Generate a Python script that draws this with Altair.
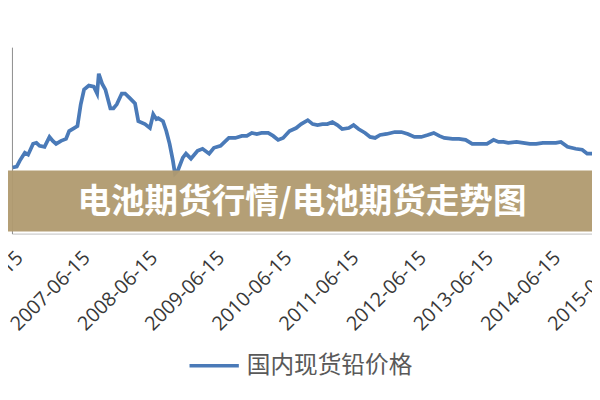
import altair as alt
import pandas as pd

# ---- data ----
dates = [
    "2006-06-16", "2006-07-08", "2006-07-25", "2006-08-21", "2006-09-08", "2006-10-05",
    "2006-10-23", "2006-11-09", "2006-12-06", "2007-01-02", "2007-01-20", "2007-02-07",
    "2007-03-06", "2007-04-02", "2007-04-19", "2007-05-16", "2007-06-03", "2007-06-21",
    "2007-07-09", "2007-08-04", "2007-08-31", "2007-09-18", "2007-09-27", "2007-10-15",
    "2007-11-02", "2007-11-29", "2007-12-16", "2008-01-03", "2008-01-30", "2008-02-17",
    "2008-03-15", "2008-04-11", "2008-04-29", "2008-06-04", "2008-07-01", "2008-07-19",
    "2008-08-05", "2008-08-15", "2008-09-10", "2008-09-28", "2008-10-16", "2008-11-03",
    "2008-11-14", "2008-11-30", "2008-12-27", "2009-01-13", "2009-02-09", "2009-03-17",
    "2009-04-13", "2009-05-19", "2009-06-14", "2009-07-20", "2009-09-03", "2009-10-08",
    "2009-11-13", "2009-12-10", "2010-01-06", "2010-02-02", "2010-02-28", "2010-04-05",
    "2010-05-02", "2010-05-29", "2010-06-25", "2010-07-30", "2010-09-04", "2010-10-01",
    "2010-11-06", "2010-12-03", "2010-12-29", "2011-01-25", "2011-02-21", "2011-03-20",
    "2011-04-16", "2011-05-12", "2011-06-17", "2011-07-13", "2011-08-09", "2011-09-14",
    "2011-10-11", "2011-11-07", "2011-12-04", "2012-01-09", "2012-02-22", "2012-03-29",
    "2012-05-03", "2012-06-08", "2012-07-15", "2012-08-19", "2012-09-21", "2012-10-21",
    "2012-11-17", "2013-01-01", "2013-02-05", "2013-03-13", "2013-04-18", "2013-05-24",
    "2013-07-07", "2013-08-12", "2013-09-08", "2013-10-05", "2013-10-31", "2013-12-15",
    "2014-01-20", "2014-02-25", "2014-04-01", "2014-05-07", "2014-06-12", "2014-07-17",
    "2014-08-13", "2014-09-18", "2014-11-01", "2014-12-07", "2015-01-03", "2015-01-30",
]
prices = [
    12170, 12350, 13480, 14970, 14600, 16660,
    16850, 16280, 16100, 17970, 17220, 16660,
    17220, 17590, 19090, 19650, 20030, 24150,
    26950, 27700, 27510, 26200, 29950, 28080,
    26950, 23400, 23400, 24150, 26200, 26200,
    25270, 24330, 20960, 20400, 19650, 22270,
    21340, 21520, 20960, 19090, 16660, 13480,
    11040, 11600, 14040, 14790, 13850, 15350,
    15720, 14790, 15910, 16280, 17780, 17780,
    18160, 18160, 18720, 18530, 18720, 18720,
    18160, 17410, 17780, 19090, 19650, 20400,
    21150, 20400, 20210, 20400, 20400, 20780,
    20210, 19470, 19650, 20210, 19470, 18720,
    17970, 17780, 18340, 18530, 18900, 18900,
    18530, 17970, 17970, 18340, 18720, 18160,
    17780, 17590, 17590, 17410, 16660, 16660,
    16660, 17410, 17030, 17030, 16850, 17030,
    16850, 16660, 16660, 16850, 16850, 16850,
    17030, 16100, 15720, 15540, 14790, 14790,
]
tick_labels = [
    "2006-06-15", "2007-06-15", "2008-06-15", "2009-06-15", "2010-06-15",
    "2011-06-15", "2012-06-15", "2013-06-15", "2014-06-15", "2015-06-15",
]
series_name = "国内现货铅价格"
banner_text = "电池期货行情/电池期货走势图"


def dt(s):
    y, m, d = (int(p) for p in s.split("-"))
    return alt.DateTime(year=y, month=m, date=d)


df = pd.DataFrame({"date": dates, "price": prices, "series": series_name})
banner_df = pd.DataFrame({"t": [banner_text]})

W, H = 640, 189
TOTAL_W = 592

line = alt.Chart(df).mark_line(strokeWidth=3.8, clip=True).encode(
    x=alt.X(
        "date:T",
        scale=alt.Scale(domain=[dt("2006-06-12"), dt("2015-11-04")]),
        axis=alt.Axis(
            values=[dt(s) for s in tick_labels],
            format="%Y-%m-%d",
            labelAngle=-45,
            labelFont="Open Sans",
            labelFontSize=20,
            labelColor="#383838",
            labelPadding=14,
            labelOverlap=False,
            labelBound=False,
            labelFlush=False,
            ticks=False,
            grid=False,
            domainColor="#bfbfbf",
            title=None,
        ),
    ),
    y=alt.Y(
        "price:Q",
        scale=alt.Scale(domain=[-370, 35000], nice=False, zero=False),
        axis=alt.Axis(labels=False, ticks=False, grid=False, domainColor="#8c8c8c", title=None),
    ),
    color=alt.Color(
        "series:N",
        scale=alt.Scale(range=["#4a7ab8"]),
        legend=alt.Legend(
            orient="none",
            legendX=178,
            legendY=296,
            title=None,
            padding=0,
            symbolType="stroke",
            symbolSize=2500,
            symbolStrokeWidth=3.5,
            labelOffset=6,
            labelLimit=0,
            labelFont="Noto Sans CJK SC",
            labelFontSize=24,
            labelColor="#595959",
        ),
    ),
)

banner = alt.Chart(banner_df).mark_rect(color="#b09a6f", opacity=0.95).encode(
    x=alt.value(-4), x2=alt.value(588), y=alt.value(125), y2=alt.value(187)
)

title_text = alt.Chart(banner_df).mark_text(
    font="Noto Sans CJK SC",
    fontSize=34,
    fontWeight="bold",
    color="white",
    align="center",
    baseline="middle",
).encode(x=alt.value(294), y=alt.value(158), text="t:N")

chart = (
    alt.layer(line, banner, title_text)
    .properties(
        width=W,
        height=H,
        autosize=alt.AutoSizeParams(type="none"),
        padding={"left": 4, "top": 37, "right": TOTAL_W - 4 - W, "bottom": 166},
        background="white",
    )
    .configure_view(stroke=None)
)

chart.save("out.html", embed_options={"renderer": "svg", "actions": False})
